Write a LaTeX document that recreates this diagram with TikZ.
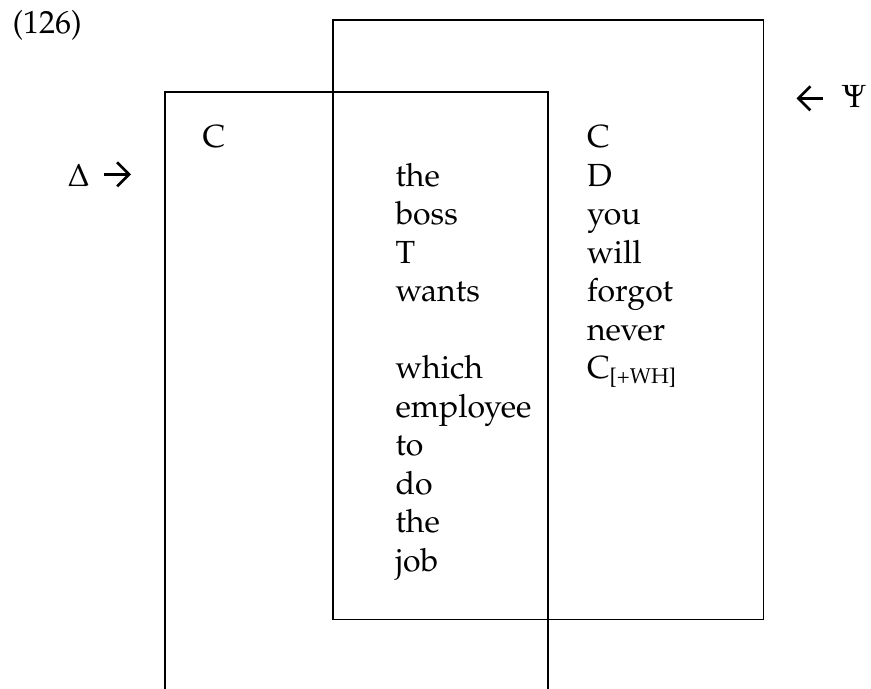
\documentclass[tikz,border=0pt]{standalone}
\usepackage[T1]{fontenc}
\usepackage[sc]{mathpazo}
\usetikzlibrary{arrows.meta}
\begin{document}
\begin{tikzpicture}[x=0.375pt,y=-0.375pt,
  word/.style={anchor=base west, inner sep=0pt, font=\fontsize{12}{14.4}\selectfont},
  boxline/.style={line width=0.65pt},
  glypharrow/.style={line width=1pt, -{Straight Barb[length=4.5pt,width=9pt]}}]
\useasboundingbox (0,0) rectangle (871,688);
% boxes
\draw[boxline] (165,700) -- (165,92) -- (548,92) -- (548,700);
\draw[boxline] (333,20) rectangle (763.5,619.5);
% example number
\node[word] (num) at (12,33) {(126)};
% left marker
\node[word] (delta) at (67,186) {$\Delta$};
\coordinate (ra1) at (104,174.3);
\coordinate (ra2) at (131,174.3);
\draw[glypharrow] (ra1) -- (ra2);
% right marker
\coordinate (la1) at (823,98.3);
\coordinate (la2) at (796.5,98.3);
\draw[glypharrow] (la1) -- (la2);
\node[word] (psi) at (841.5,107.7) {$\Psi$};
% left column
\node[word] (lc) at (202,147.5) {C};
% middle column
\node[word] (m1) at (395,186) {the};
\node[word] (m2) at (395,224.5) {boss};
\node[word] (m3) at (395,263) {T};
\node[word] (m4) at (395,301.5) {wants};
\node[word] (m6) at (395,378.5) {which};
\node[word] (m7) at (395,417) {employee};
\node[word] (m8) at (395,455.5) {to};
\node[word] (m9) at (395,494) {do};
\node[word] (m10) at (395,532.5) {the};
\node[word] (m11) at (395,571) {job};
% right column
\node[word] (r0) at (586.5,147.5) {C};
\node[word] (r1) at (586.5,186) {D};
\node[word] (r2) at (586.5,224.5) {you};
\node[word] (r3) at (586.5,263) {will};
\node[word] (r4) at (586.5,301.5) {forgot};
\node[word] (r5) at (586.5,340) {never};
\node[word] (r6) at (586.5,378.5) {C\raisebox{-1.9pt}{\fontsize{8}{9}\selectfont[+WH]}};
\end{tikzpicture}
\end{document}
